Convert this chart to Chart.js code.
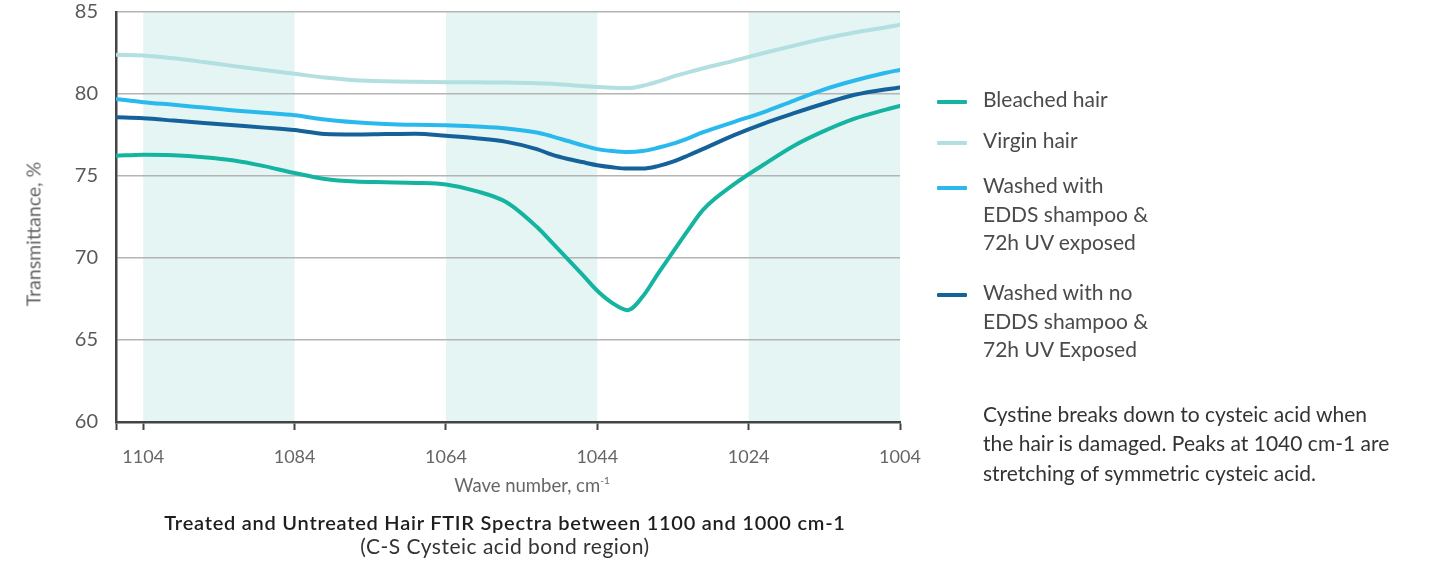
<!DOCTYPE html>
<html>
<head>
<meta charset="utf-8">
<script src="https://cdn.jsdelivr.net/npm/chart.js@4.4.1/dist/chart.umd.min.js"></script>
<style>
  html, body { margin: 0; padding: 0; background: #fff; }
  body { width: 1437px; height: 561px; position: relative; overflow: hidden; font-family: Lato, "Noto Sans", sans-serif; }
  #chart { position: absolute; left: 0; top: 0; }
  .txt { position: absolute; white-space: nowrap; }
  .center { transform: translateX(-50%); }
  #yTitle { left: 33px; top: 234px; font-size: 19.5px; color: #666; transform: translate(-50%, -50%) rotate(-90deg); }
  #xTitle { left: 532px; top: 474px; font-size: 18.5px; line-height: 22px; color: #666; }
  #xTitle sup { font-size: 10px; vertical-align: 8px; line-height: 0; }
  #title { left: 505px; top: 510px; font-size: 20px; letter-spacing: 0.75px; line-height: 24px; font-weight: 600; color: #1e1e1e; }
  #subtitle { left: 505px; top: 534px; font-size: 21px; letter-spacing: 0.5px; line-height: 24px; color: #333; }
  .legItem { position: absolute; left: 937px; }
  .legItem .sw { position: absolute; left: 0; width: 30px; height: 4px; border-radius: 1px; }
  .legItem .lab { position: absolute; left: 46px; top: 0; font-size: 21px; line-height: 28.7px; color: #4a4a4a; white-space: pre; }
  #note { left: 983px; top: 399px; font-size: 21px; line-height: 29.3px; color: #333; white-space: pre; }
</style>
</head>
<body>
<canvas id="chart" width="1437" height="561"></canvas>
<div id="yTitle" class="txt">Transmittance, %</div>
<div id="xTitle" class="txt center">Wave number, cm<sup>-1</sup></div>
<div id="title" class="txt center">Treated and Untreated Hair FTIR Spectra between 1100 and 1000 cm-1</div>
<div id="subtitle" class="txt center">(C-S Cysteic acid bond region)</div>
<div id="legend"></div>
<div id="note" class="txt">Cystine breaks down to cysteic acid when
the hair is damaged. Peaks at 1040 cm-1 are
stretching of symmetric cysteic acid.</div>
<script>
// wave number, cm-1 (axis runs high -> low)
const waveNumbers = [1107.6, 1104, 1100, 1096, 1092, 1088, 1084, 1080, 1076, 1072, 1068, 1064, 1060, 1056,
  1052, 1050, 1048, 1046, 1044, 1042, 1040, 1038, 1036, 1034, 1032, 1030, 1026, 1022, 1018, 1014, 1010, 1006, 1004];

// transmittance, %
const bleachedHair = [76.23, 76.30, 76.27, 76.15, 75.95, 75.60, 75.18, 74.82, 74.66, 74.62, 74.58, 74.48, 74.08, 73.40,
  71.90, 70.95, 69.98, 69.00, 68.00, 67.25, 66.82, 67.65, 69.03, 70.37, 71.70, 72.95, 74.47, 75.70, 76.85, 77.75, 78.50, 79.03, 79.27];
const virginHair = [82.39, 82.35, 82.18, 81.95, 81.70, 81.46, 81.23, 81.00, 80.84, 80.77, 80.74, 80.72, 80.71, 80.70,
  80.66, 80.62, 80.56, 80.49, 80.43, 80.38, 80.36, 80.50, 80.75, 81.06, 81.32, 81.57, 82.02, 82.50, 82.95, 83.38, 83.75, 84.05, 84.22];
const eddsUvExposed = [79.70, 79.50, 79.34, 79.17, 79.00, 78.85, 78.70, 78.45, 78.28, 78.17, 78.12, 78.10, 78.02, 77.90,
  77.65, 77.42, 77.15, 76.88, 76.64, 76.52, 76.46, 76.52, 76.72, 76.97, 77.30, 77.67, 78.29, 78.90, 79.60, 80.28, 80.82, 81.28, 81.47];
const noEddsUvExposed = [78.58, 78.52, 78.38, 78.23, 78.09, 77.95, 77.80, 77.56, 77.53, 77.56, 77.58, 77.45, 77.30, 77.08,
  76.64, 76.30, 76.05, 75.85, 75.66, 75.53, 75.45, 75.45, 75.60, 75.87, 76.25, 76.65, 77.48, 78.20, 78.83, 79.42, 79.95, 80.28, 80.39];

const seriesNames = ['Bleached hair', 'Virgin hair', 'Washed with\nEDDS shampoo &\n72h UV exposed', 'Washed with no\nEDDS shampoo &\n72h UV Exposed'];
const seriesValues = [bleachedHair, virginHair, eddsUvExposed, noEddsUvExposed];
const seriesColors = ['#14b4a1', '#b2dfe0', '#2ab9ed', '#15629b'];

const xTickValues = [1104, 1084, 1064, 1044, 1024, 1004];
const yTickValues = [60, 65, 70, 75, 80, 85];
const shadedRanges = [[1104, 1084], [1064, 1044], [1024, 1004]];

// legend rows (top of first text line)
const legendTops = [84.5, 126, 171, 278];

var bandPlugin = {
  id: 'bands',
  beforeDraw(chart) {
    const ctx = chart.ctx, area = chart.chartArea, x = chart.scales.x;
    ctx.save();
    ctx.fillStyle = '#e5f5f4';
    shadedRanges.forEach(r => {
      const a = x.getPixelForValue(r[0]), b = x.getPixelForValue(r[1]);
      ctx.fillRect(Math.min(a, b), area.top, Math.abs(b - a), area.bottom - area.top);
    });
    ctx.restore();
  }
};

var ftirChart = new Chart(document.getElementById('chart').getContext('2d'), {
  type: 'line',
  data: {
    datasets: seriesValues.map((vals, i) => ({
      label: seriesNames[i],
      data: waveNumbers.map((w, j) => ({ x: w, y: vals[j] })),
      borderColor: seriesColors[i],
      backgroundColor: seriesColors[i],
      borderWidth: 4,
      borderCapStyle: 'round',
      pointRadius: 0,
      cubicInterpolationMode: 'monotone',
      fill: false
    }))
  },
  options: {
    responsive: false,
    animation: false,
    layout: { padding: { top: 12, right: 537, left: 0, bottom: 0 } },
    plugins: { legend: { display: false }, tooltip: { enabled: false } },
    scales: {
      x: {
        type: 'linear',
        reverse: true,
        min: 1004,
        max: 1107.6,
        // extra unlabeled tick at the axis end, like the original's corner mark
        afterBuildTicks: s => { s.ticks = [s.max].concat(xTickValues).map(v => ({ value: v })); },
        afterFit: s => { s.height = 139; },
        grid: { drawOnChartArea: false, drawTicks: true, tickLength: 8, tickWidth: 2, tickColor: '#444' },
        border: { color: '#444', width: 2.5 },
        ticks: {
          autoSkip: false, maxRotation: 0, color: '#666', font: { family: 'Lato', size: 18 }, padding: 16,
          callback: v => xTickValues.includes(v) ? String(v) : ''
        }
      },
      y: {
        min: 60,
        max: 85,
        afterBuildTicks: s => { s.ticks = yTickValues.map(v => ({ value: v })); },
        afterFit: s => { s.width = 116; s.paddingTop = 0; s.paddingBottom = 0; },
        grid: { color: '#b4b4b4', lineWidth: 1.5, drawTicks: false },
        border: { color: '#444', width: 2.5 },
        ticks: { color: '#5a5a5a', font: { family: 'Lato', size: 20 }, padding: 18 }
      }
    }
  },
  plugins: [bandPlugin]
});

// html legend built from the datasets
var legend = document.getElementById('legend');
seriesNames.forEach((name, i) => {
  const item = document.createElement('div');
  item.className = 'legItem';
  item.style.top = legendTops[i] + 'px';
  const sw = document.createElement('span');
  sw.className = 'sw';
  sw.style.background = seriesColors[i];
  sw.style.top = '15px';
  const lab = document.createElement('span');
  lab.className = 'lab';
  lab.textContent = name;
  item.appendChild(sw);
  item.appendChild(lab);
  legend.appendChild(item);
});
</script>
</body>
</html>
